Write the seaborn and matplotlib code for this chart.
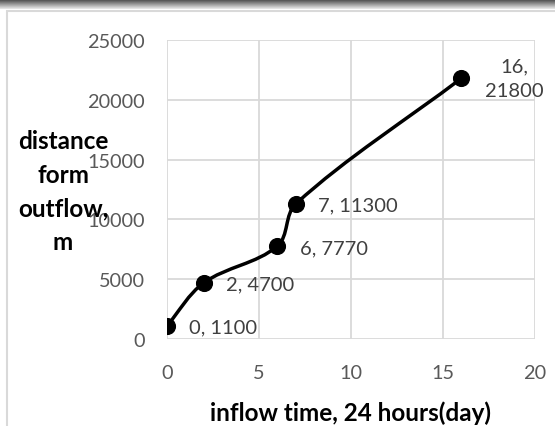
import numpy as np
import matplotlib
matplotlib.use("Agg")
import matplotlib.pyplot as plt
from matplotlib.path import Path
from matplotlib.patches import PathPatch, Rectangle
import seaborn as sns

# data
days = [0, 2, 6, 7, 16]
distance = [1100, 4700, 7770, 11300, 21800]
point_labels = ["0, 1100", "2, 4700", "6, 7770", "7, 11300", "16,\n21800"]
x_ticks = [0, 5, 10, 15, 20]
y_ticks = [0, 5000, 10000, 15000, 20000, 25000]

sns.set_theme(style="white")
plt.rcParams['font.family'] = ['Lato', 'DejaVu Sans']

fig = plt.figure(figsize=(5.55, 4.27), dpi=100)
ax_w, ax_h = 368, 299
ax = fig.add_axes([167/555, 1 - 340/427, ax_w/555, ax_h/427])

# chart frame and the dark band at the top
band = fig.add_axes([0, 1 - 10/427, 1, 10/427])
band.imshow(np.linspace(0.25, 0.92, 50).reshape(-1, 1), cmap="gray", vmin=0, vmax=1,
            aspect="auto", extent=[0, 1, 0, 1])
band.axis("off")
fig.patches.append(Rectangle((7/555, -0.1), 1.2, 1 - 12/427 + 0.1, transform=fig.transFigure,
                             fill=False, edgecolor="#d9d9d9", linewidth=1.5, zorder=0))

# smoothed line like Excel: bezier handles worked out in screen-like space
sx, sy = ax_w / 20, ax_h / 25000
q = np.column_stack([np.array(days) * sx, np.array(distance) * sy])
n = len(q)

def tangent(i):
    d = q[min(i + 1, n - 1)] - q[max(i - 1, 0)]
    return d / np.linalg.norm(d)

verts = [q[0]]
codes = [Path.MOVETO]
for i in range(n - 1):
    L = np.linalg.norm(q[i + 1] - q[i])
    verts += [q[i] + tangent(i) * L / 3, q[i + 1] - tangent(i + 1) * L / 3, q[i + 1]]
    codes += [Path.CURVE4] * 3
verts = np.array(verts) / [sx, sy]
ax.add_patch(PathPatch(Path(verts, codes), facecolor="none", edgecolor="black",
                       linewidth=2.5, zorder=3, capstyle="round", joinstyle="round"))

sns.scatterplot(x=days, y=distance, ax=ax, color="black", s=130, zorder=4, edgecolor="black")

for x, y, lab in zip(days, distance, point_labels):
    if "\n" in lab:
        ax.annotate(lab, (x, y), xytext=(38, 0), textcoords="offset points",
                    ha="center", va="center", fontsize=14.5, color="#404040", linespacing=1.6)
    else:
        ax.annotate(lab, (x, y), xytext=(16, -1), textcoords="offset points",
                    ha="left", va="center", fontsize=14.5, color="#404040")

ax.set_xlim(0, 20)
ax.set_ylim(0, 25000)
ax.set_xticks(x_ticks)
ax.set_yticks(y_ticks)
ax.grid(True, color="#d9d9d9", linewidth=1.3)
for s in ax.spines.values():
    s.set_visible(False)
ax.tick_params(axis="both", colors="#595959", labelsize=14.3, length=0)
ax.tick_params(axis="x", pad=18)
ax.tick_params(axis="y", pad=16)
ax.set_xlabel("")
ax.set_ylabel("")

fig.text(350/555, 1 - 413/427, "inflow time, 24 hours(day)", ha="center", va="center",
         fontsize=17.5, fontweight="bold", color="black")
fig.text(63/555, 1 - 192/427, "distance\nform\noutflow,\nm", ha="center", va="center",
         fontsize=17.5, fontweight="bold", color="black", linespacing=1.55)

fig.savefig("out.png", dpi=100)
